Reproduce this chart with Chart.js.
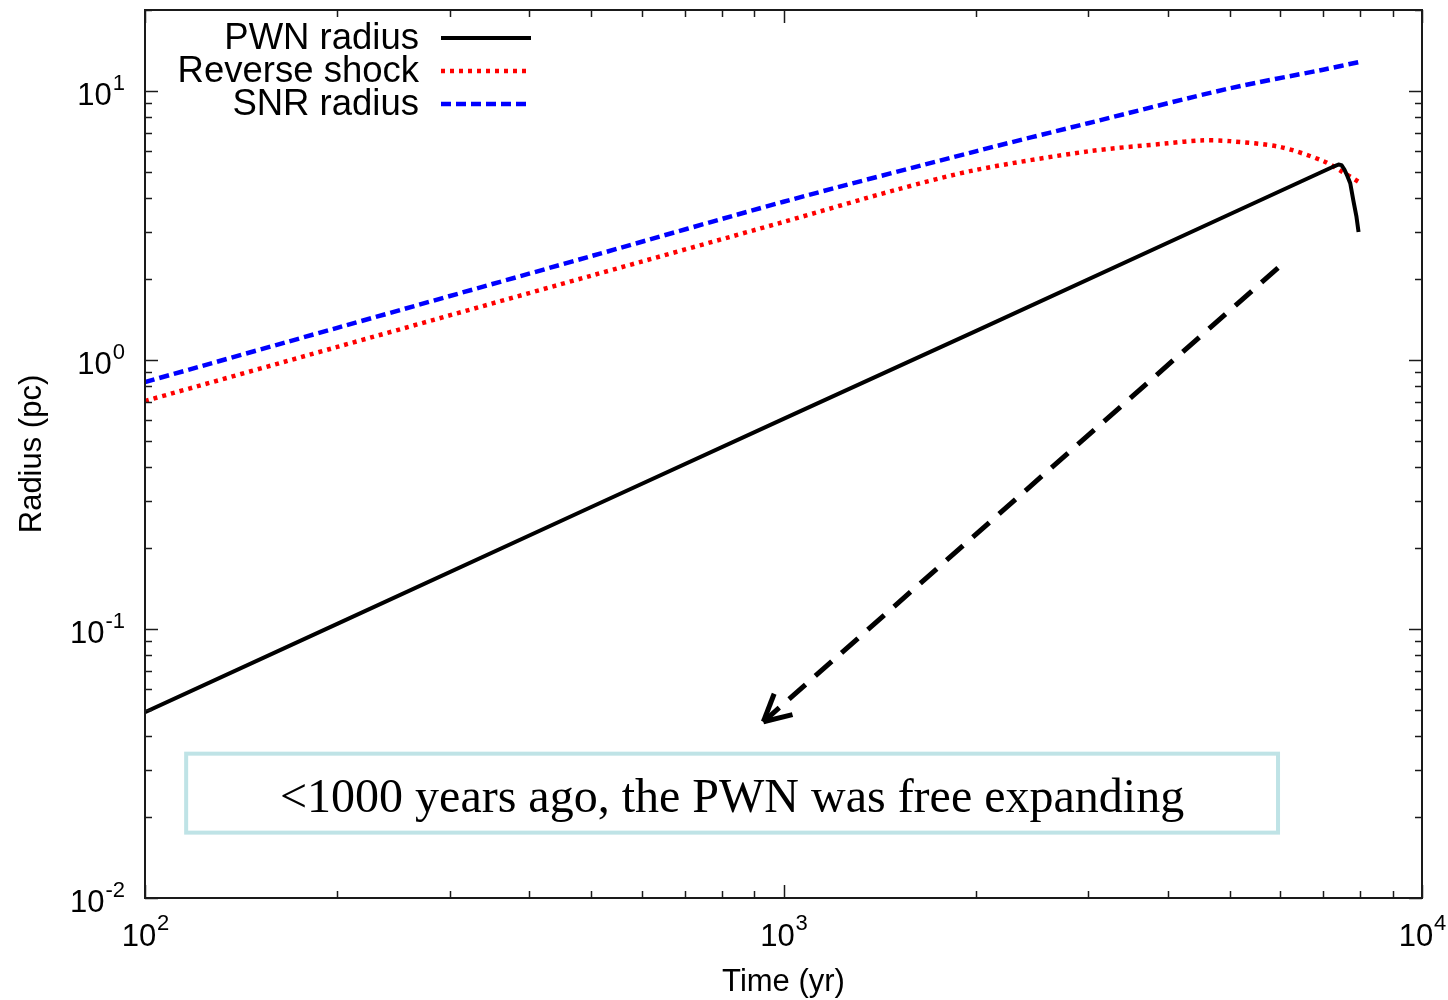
<!DOCTYPE html>
<html>
<head>
<meta charset="utf-8">
<script src="https://cdn.jsdelivr.net/npm/chart.js@4.4.1/dist/chart.umd.min.js"></script>
<style>
  html, body { margin: 0; padding: 0; background: #fff; }
  #caixa { width: 1448px; height: 1000px; position: relative; }
</style>
</head>
<body>
<div id="caixa"><canvas id="graficoRaio"></canvas></div>
<script>
// dados (tempo em anos, raio em pc)
const pwnTime = [100, 200, 500, 1000, 2000, 5000, 7300, 7400, 7480, 7560, 7640, 7720, 7805, 7895, 7955];
const pwnRadius = [0.0491, 0.1045, 0.284, 0.604, 1.28, 3.48, 5.26, 5.33, 5.30, 5.10, 4.83, 4.54, 3.93, 3.41, 2.99];

const rsTime = [100, 200, 500, 1000, 1500, 2000, 3000, 4000, 4500, 5000, 6000, 7000, 7500, 7950];
const rsRadius = [0.704, 1.118, 2.058, 3.26, 4.29, 5.085, 5.965, 6.39, 6.55, 6.51, 6.19, 5.49, 5.01, 4.60];

const snrTime = [100, 200, 500, 1000, 2000, 3000, 5000, 7000, 7950];
const snrRadius = [0.828, 1.317, 2.433, 3.874, 5.965, 7.59, 10.23, 12.0, 12.8];

const seriesLabels = ['PWN radius', 'Reverse shock', 'SNR radius'];

// ticks (decadas com rotulo, multiplicadores para os ticks menores)
const xDecades = [100, 1000, 10000];
const yDecades = [0.01, 0.1, 1, 10];
const minorSteps = [2, 3, 4, 5, 6, 7, 8, 9];

const xTitle = 'Time (yr)';
const yTitle = 'Radius (pc)';
const noteText = '<1000 years ago, the PWN was free expanding';

// anotacao em coordenadas de dados
const noteBoxTime = [116, 5950];
const noteBoxRadius = [0.0344, 0.0175];
const arrowFrom = [5950, 2.2];
const arrowTo = [930, 0.0452];

function pontos(xs, ys) {
  return xs.map((x, i) => ({ x: x, y: ys[i] }));
}

function linha(ctx, x1, y1, x2, y2) {
  ctx.beginPath();
  ctx.moveTo(x1, y1);
  ctx.lineTo(x2, y2);
  ctx.stroke();
}

function potencia(ctx, valor, x, y, alinhamento, fonteBase, fonteExp, subida) {
  const exp = String(Math.round(Math.log10(valor)));
  ctx.font = fonteBase;
  const wBase = ctx.measureText('10').width;
  ctx.font = fonteExp;
  const wExp = ctx.measureText(exp).width;
  let x0 = x;
  if (alinhamento === 'center') x0 = x - (wBase + wExp) / 2;
  if (alinhamento === 'right') x0 = x - (wBase + wExp);
  ctx.textAlign = 'left';
  ctx.textBaseline = 'alphabetic';
  ctx.font = fonteBase;
  ctx.fillText('10', x0, y);
  ctx.font = fonteExp;
  ctx.fillText(exp, x0 + wBase + 1, y - subida);
}

const moldura = {
  id: 'moldura',
  afterDatasetsDraw(chart) {
    const ctx = chart.ctx;
    const a = chart.chartArea;
    const sx = chart.scales.x;
    const sy = chart.scales.y;
    ctx.save();

    // ticks para dentro, nos quatro lados
    ctx.strokeStyle = '#1a1a1a';
    ctx.lineWidth = 1.5;
    xDecades.forEach(d => {
      [1].concat(minorSteps).forEach(m => {
        const v = d * m;
        if (v < sx.min || v > sx.max) return;
        const px = Math.round(sx.getPixelForValue(v)) + 0.5;
        const len = m === 1 ? 13 : 7;
        linha(ctx, px, a.bottom, px, a.bottom - len);
        linha(ctx, px, a.top, px, a.top + len);
      });
    });
    yDecades.forEach(d => {
      [1].concat(minorSteps).forEach(m => {
        const v = d * m;
        if (v < sy.min - 1e-9 || v > sy.max + 1e-9) return;
        const py = Math.round(sy.getPixelForValue(v)) + 0.5;
        const len = m === 1 ? 13 : 7;
        linha(ctx, a.left, py, a.left + len, py);
        linha(ctx, a.right, py, a.right - len, py);
      });
    });

    // borda
    ctx.lineWidth = 2;
    ctx.strokeStyle = '#1a1a1a';
    ctx.strokeRect(a.left, a.top, a.right - a.left, a.bottom - a.top);

    // rotulos dos ticks
    ctx.fillStyle = '#000';
    const fBase = '31px "Liberation Sans", Arial, sans-serif';
    const fExp = '22px "Liberation Sans", Arial, sans-serif';
    xDecades.forEach(d => {
      potencia(ctx, d, sx.getPixelForValue(d), a.bottom + 48, 'center', fBase, fExp, 16);
    });
    yDecades.forEach(d => {
      potencia(ctx, d, a.left - 21, sy.getPixelForValue(d) + 14, 'right', fBase, fExp, 15);
    });

    // titulos dos eixos
    ctx.font = '31px "Liberation Sans", Arial, sans-serif';
    ctx.textAlign = 'center';
    ctx.textBaseline = 'alphabetic';
    ctx.fillText(xTitle, (a.left + a.right) / 2, 991);
    ctx.save();
    ctx.translate(41, (a.top + a.bottom) / 2);
    ctx.rotate(-Math.PI / 2);
    ctx.fillText(yTitle, 0, 0);
    ctx.restore();

    // legenda
    ctx.font = '36.5px "Liberation Sans", Arial, sans-serif';
    ctx.textAlign = 'right';
    ctx.textBaseline = 'middle';
    chart.data.datasets.forEach((ds, i) => {
      const yy = 39 + i * 33;
      ctx.fillStyle = '#000';
      ctx.fillText(ds.label, 419, yy);
      ctx.save();
      ctx.strokeStyle = ds.borderColor;
      ctx.lineWidth = ds.borderWidth;
      ctx.lineCap = 'butt';
      ctx.setLineDash(ds.borderDash || []);
      linha(ctx, 441, yy - 1, 531, yy - 1);
      ctx.restore();
    });

    // caixa de texto
    const bx1 = sx.getPixelForValue(noteBoxTime[0]);
    const bx2 = sx.getPixelForValue(noteBoxTime[1]);
    const by1 = sy.getPixelForValue(noteBoxRadius[0]);
    const by2 = sy.getPixelForValue(noteBoxRadius[1]);
    ctx.fillStyle = '#ffffff';
    ctx.fillRect(bx1, by1, bx2 - bx1, by2 - by1);
    ctx.strokeStyle = '#bfe3e6';
    ctx.lineWidth = 4;
    ctx.strokeRect(bx1, by1, bx2 - bx1, by2 - by1);
    ctx.fillStyle = '#000';
    ctx.font = '48px "Liberation Serif", "Times New Roman", serif';
    ctx.textAlign = 'center';
    ctx.textBaseline = 'alphabetic';
    ctx.fillText(noteText, (bx1 + bx2) / 2, by1 + 58);

    // seta tracejada
    const ax1 = sx.getPixelForValue(arrowFrom[0]);
    const ay1 = sy.getPixelForValue(arrowFrom[1]);
    const ax2 = sx.getPixelForValue(arrowTo[0]);
    const ay2 = sy.getPixelForValue(arrowTo[1]);
    ctx.strokeStyle = '#000';
    ctx.lineWidth = 5;
    ctx.setLineDash([22, 13]);
    linha(ctx, ax1, ay1, ax2, ay2);
    ctx.setLineDash([]);
    const ang = Math.atan2(ay1 - ay2, ax1 - ax2);
    const ponta = 30;
    [-0.48, 0.48].forEach(da => {
      linha(ctx, ax2, ay2, ax2 + ponta * Math.cos(ang + da), ay2 + ponta * Math.sin(ang + da));
    });

    ctx.restore();
  }
};

const ctxRaio = document.getElementById('graficoRaio');
new Chart(ctxRaio, {
  type: 'line',
  data: {
    datasets: [
      {
        label: seriesLabels[0],
        data: pontos(pwnTime, pwnRadius),
        borderColor: '#000000',
        borderWidth: 4,
        pointRadius: 0,
        tension: 0,
        borderJoinStyle: 'round'
      },
      {
        label: seriesLabels[1],
        data: pontos(rsTime, rsRadius),
        borderColor: '#ff0000',
        borderWidth: 4.5,
        borderDash: [4, 5],
        pointRadius: 0,
        tension: 0.3
      },
      {
        label: seriesLabels[2],
        data: pontos(snrTime, snrRadius),
        borderColor: '#0000ff',
        borderWidth: 4.5,
        borderDash: [10, 5],
        pointRadius: 0,
        tension: 0.3
      }
    ]
  },
  options: {
    responsive: true,
    maintainAspectRatio: false,
    animation: false,
    layout: { padding: { left: 145, right: 26, top: 10, bottom: 102 } },
    plugins: {
      legend: { display: false },
      tooltip: { enabled: false }
    },
    scales: {
      x: { type: 'logarithmic', min: 100, max: 10000, display: false },
      y: { type: 'logarithmic', min: 0.01, max: 20, display: false }
    }
  },
  plugins: [moldura]
});
</script>
</body>
</html>
